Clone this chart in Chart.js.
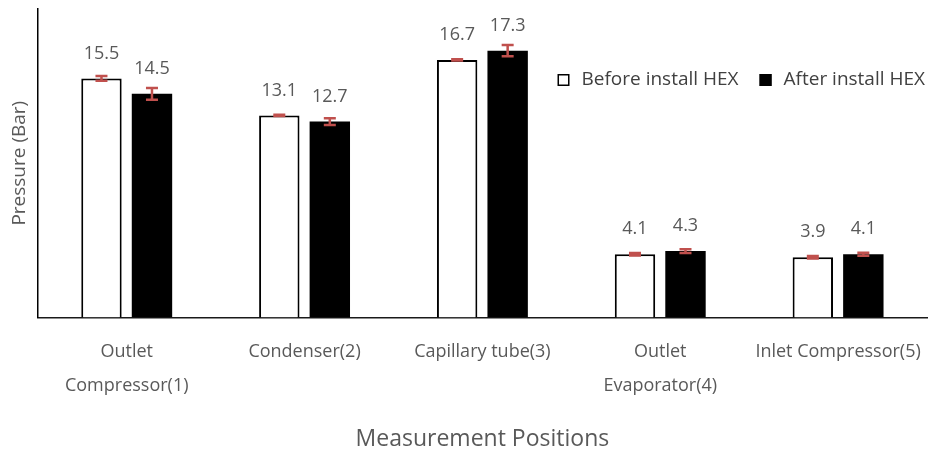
<!DOCTYPE html>
<html>
<head>
<meta charset="utf-8">
<script src="https://cdn.jsdelivr.net/npm/chart.js@4.4.1/dist/chart.umd.min.js"></script>
<style>
  html, body { margin: 0; padding: 0; background: #fff; }
  #wrap { width: 932px; height: 459px; position: relative; }
</style>
</head>
<body>
<div id="wrap"><canvas id="c" width="932" height="459"></canvas></div>
<script>
// Measurement positions along the refrigeration loop
const categories = [
  ['Outlet', 'Compressor(1)'],
  'Condenser(2)',
  'Capillary tube(3)',
  ['Outlet', 'Evaporator(4)'],
  'Inlet Compressor(5)'
];
const seriesNames = ['Before install HEX', 'After install HEX'];

// Mean pressure (bar) and spread for each position
const beforeValues = [15.5, 13.1, 16.7, 4.1, 3.9];
const afterValues  = [14.5, 12.7, 17.3, 4.3, 4.1];
const beforeErrors = [0.15, 0.04, 0.04, 0.08, 0.08];
const afterErrors  = [0.38, 0.22, 0.36, 0.12, 0.1];

const yMin = 0;
const yMax = 20;

const FONT = "'Open Sans', 'Noto Sans', sans-serif";
const TEXT = '#595959';
const ERR = '#C0504D';

// Error bars with caps, centred on each bar's top
const errorBars = {
  id: 'errorBars',
  afterDatasetsDraw(chart) {
    const ctx = chart.ctx;
    const y = chart.scales.y;
    chart.data.datasets.forEach((ds, i) => {
      const meta = chart.getDatasetMeta(i);
      meta.data.forEach((bar, j) => {
        const v = ds.data[j], e = ds.errors[j];
        const top = y.getPixelForValue(v + e);
        const bot = y.getPixelForValue(v - e);
        ctx.save();
        ctx.strokeStyle = ERR;
        ctx.lineWidth = 2.5;
        ctx.beginPath();
        ctx.moveTo(bar.x, top); ctx.lineTo(bar.x, bot);
        ctx.moveTo(bar.x - 6, top); ctx.lineTo(bar.x + 6, top);
        ctx.moveTo(bar.x - 6, bot); ctx.lineTo(bar.x + 6, bot);
        ctx.stroke();
        ctx.restore();
      });
    });
  }
};

// Value labels above each bar
const valueLabels = {
  id: 'valueLabels',
  afterDatasetsDraw(chart) {
    const ctx = chart.ctx;
    ctx.save();
    ctx.font = `18px ${FONT}`;
    ctx.fillStyle = TEXT;
    ctx.textAlign = 'center';
    ctx.textBaseline = 'middle';
    chart.data.datasets.forEach((ds, i) => {
      chart.getDatasetMeta(i).data.forEach((bar, j) => {
        ctx.fillText(ds.data[j].toFixed(1), bar.x, bar.y - 25);
      });
    });
    ctx.restore();
  }
};

// Legend drawn inside the plot area, on the right
const insideLegend = {
  id: 'insideLegend',
  afterDraw(chart) {
    const ctx = chart.ctx;
    const area = chart.chartArea;
    ctx.save();
    ctx.font = `19px ${FONT}`;
    ctx.textBaseline = 'middle';
    ctx.textAlign = 'left';
    const cy = area.top + 71;
    const box = 12, gapText = 12, gapItem = 21;
    const widths = seriesNames.map(n => ctx.measureText(n).width);
    const total = widths.reduce((s, w) => s + box + gapText + w, 0) + gapItem;
    let x = area.right - 2 - total;
    chart.data.datasets.forEach((ds, i) => {
      ctx.fillStyle = ds.backgroundColor;
      ctx.fillRect(x, cy - box / 2, box, box);
      ctx.strokeStyle = '#000';
      ctx.lineWidth = 1.5;
      ctx.strokeRect(x + 0.75, cy - box / 2 + 0.75, box - 1.5, box - 1.5);
      ctx.fillStyle = '#404040';
      ctx.fillText(seriesNames[i], x + box + gapText, cy);
      x += box + gapText + widths[i] + gapItem;
    });
    ctx.restore();
  }
};

new Chart(document.getElementById('c'), {
  type: 'bar',
  data: {
    labels: categories,
    datasets: [
      {
        label: seriesNames[0],
        data: beforeValues,
        errors: beforeErrors,
        backgroundColor: '#ffffff',
        borderColor: '#000000',
        borderWidth: 2,
        categoryPercentage: 0.568,
        barPercentage: 0.8
      },
      {
        label: seriesNames[1],
        data: afterValues,
        errors: afterErrors,
        backgroundColor: '#000000',
        borderColor: '#000000',
        borderWidth: 0,
        categoryPercentage: 0.568,
        barPercentage: 0.8
      }
    ]
  },
  options: {
    responsive: false,
    animation: false,
    layout: { padding: { top: 9, right: 5, left: 0, bottom: 0 } },
    plugins: {
      legend: { display: false },
      tooltip: { enabled: false }
    },
    scales: {
      x: {
        // category labels sit well inside their slots; no extra edge room needed
        afterFit(scale) { scale.paddingLeft = 0; scale.paddingRight = 0; },
        grid: { display: false, drawTicks: false },
        border: { display: true, color: '#1a1a1a', width: 1.5 },
        ticks: {
          color: TEXT,
          font: { family: FONT, size: 18, lineHeight: '34px' },
          padding: 17,
          maxRotation: 0,
          autoSkip: false
        },
        title: {
          display: true,
          text: 'Measurement Positions',
          color: TEXT,
          font: { family: FONT, size: 23, lineHeight: 1.2 },
          padding: { top: 6, bottom: 6 }
        }
      },
      y: {
        min: yMin,
        max: yMax,
        grid: { display: false, drawTicks: false },
        border: { display: true, color: '#000000', width: 1.5 },
        ticks: { display: false },
        title: {
          display: true,
          text: 'Pressure (Bar)',
          color: TEXT,
          font: { family: FONT, size: 19, lineHeight: 1.2 },
          padding: { top: 8, bottom: 7 }
        }
      }
    }
  },
  plugins: [errorBars, valueLabels, insideLegend]
});
</script>
</body>
</html>
